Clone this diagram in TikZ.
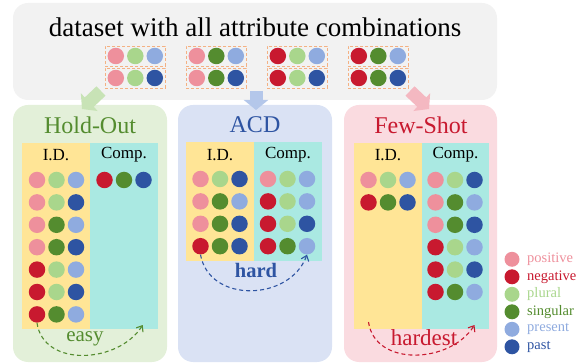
\documentclass[tikz,border=0pt]{standalone}
\usepackage{fontspec}
\setmainfont{Liberation Serif}
\usetikzlibrary{positioning, arrows.meta}

\definecolor{cPos}{HTML}{EE909C}
\definecolor{cNeg}{HTML}{C8192F}
\definecolor{cPlu}{HTML}{A9D68C}
\definecolor{cSin}{HTML}{548C2F}
\definecolor{cPre}{HTML}{8FABDF}
\definecolor{cPst}{HTML}{2E54A2}
\definecolor{bgTop}{HTML}{F2F2F2}
\definecolor{bgHo}{HTML}{E3F0D9}
\definecolor{bgAcd}{HTML}{DAE2F4}
\definecolor{bgFs}{HTML}{FADBE0}
\definecolor{idFill}{HTML}{FFE596}
\definecolor{compFill}{HTML}{AAE9E2}
\definecolor{arHo}{HTML}{C8E3B6}
\definecolor{arAcd}{HTML}{B4C7EA}
\definecolor{arFs}{HTML}{F4B8C1}
\definecolor{dashOr}{HTML}{F4B183}

\tikzset{
  dot/.style={circle, inner sep=0pt, minimum size=16.5pt},
  panel/.style={rounded corners=15pt, inner sep=0pt},
  col/.style={inner sep=0pt, minimum width=68pt},
  combo/.style={draw=dashOr, dash pattern=on 3pt off 2pt, line width=0.8pt, inner sep=0pt, minimum width=60pt, minimum height=20pt},
  fat/.style={line width=13pt, -{Triangle[length=10pt,width=24pt]}},
  curvy/.style={dash pattern=on 4pt off 3pt, line width=1.1pt, -{Straight Barb[length=5pt,width=8pt]}},
}

% three dots in a row: name, x, y, colours
\newcommand{\dotrow}[6]{%
  \node[dot,fill=#4] (#1-1) at ({#2-19.5},{#3}) {};
  \node[dot,fill=#5] (#1-2) at ({#2},{#3}) {};
  \node[dot,fill=#6] (#1-3) at ({#2+19.5},{#3}) {};}

\begin{document}
\begin{tikzpicture}[x=1pt, y=-1pt]
  \useasboundingbox (0,0) rectangle (586,363);

  % dataset
  \node[panel, fill=bgTop, minimum width=484pt, minimum height=97pt] (top) at (255,51.5) {};
  \node (title) at (255,27) {\fontsize{27}{30}\selectfont dataset with all attribute combinations};
  \foreach \a/\b [count=\g] in {cPos/cPlu, cPos/cSin, cNeg/cPlu, cNeg/cSin} {
    \pgfmathsetmacro{\gx}{135.3+81*(\g-1)}
    \node[combo] (grp\g-1) at (\gx,56) {};
    \node[combo] (grp\g-2) at (\gx,78) {};
    \dotrow{top\g-1}{\gx}{56}{\a}{\b}{cPre}
    \dotrow{top\g-2}{\gx}{78}{\a}{\b}{cPst}
  }

  % panels
  \node[panel, fill=bgHo, minimum width=154pt, minimum height=257pt] (ho) at (90,233.5) {};
  \node[panel, fill=bgAcd, minimum width=154pt, minimum height=257pt] (acd) at (255,233.5) {};
  \node[panel, fill=bgFs, minimum width=153pt, minimum height=257pt] (fs) at (420.5,233.5) {};

  \begin{scope}[every node/.style={font=\fontsize{24}{28}\selectfont}]
    \node[text=cSin] (hoTitle) at (90,125) {Hold-Out};
    \node[text=cPst] (acdTitle) at (255,125) {ACD};
    \node[text=cNeg] (fsTitle) at (421,125) {Few-Shot};
  \end{scope}

  \node[col, fill=idFill, minimum height=186pt] (hoId) at (56,236) {};
  \node[col, fill=compFill, minimum height=186pt, right=0pt of hoId] (hoComp) {};
  \node[col, fill=idFill, minimum height=119pt] (acdId) at (220,201.5) {};
  \node[col, fill=compFill, minimum height=119pt, right=0pt of acdId] (acdComp) {};
  \node[col, fill=idFill, minimum height=186pt] (fsId) at (388,236) {};
  \node[col, fill=compFill, minimum height=186pt, minimum width=67pt, right=0pt of fsId] (fsComp) {};

  \begin{scope}[every node/.style={font=\fontsize{17}{19}\selectfont}]
    \node (hoIdLab) at (56,155) {I.D.};
    \node (hoCompLab) at (124,155) {Comp.};
    \node (acdIdLab) at (220,155) {I.D.};
    \node (acdCompLab) at (288,155) {Comp.};
    \node (fsIdLab) at (388,155) {I.D.};
    \node (fsCompLab) at (455.5,155) {Comp.};
  \end{scope}

  % dots
  \foreach \a/\b/\c [count=\i] in {cPos/cPlu/cPre, cPos/cPlu/cPst, cPos/cSin/cPre, cPos/cSin/cPst, cNeg/cPlu/cPre, cNeg/cPlu/cPst, cNeg/cSin/cPre}
    \dotrow{hoid\i}{56.5}{180+22.4*(\i-1)}{\a}{\b}{\c};
  \dotrow{hocomp1}{124}{180}{cNeg}{cSin}{cPst}
  \foreach \a/\b/\c [count=\i] in {cPos/cPlu/cPst, cPos/cSin/cPre, cPos/cSin/cPst, cNeg/cSin/cPst}
    \dotrow{acdid\i}{220}{179+22.4*(\i-1)}{\a}{\b}{\c};
  \foreach \a/\b/\c [count=\i] in {cPos/cPlu/cPre, cNeg/cPlu/cPre, cNeg/cPlu/cPst, cNeg/cSin/cPre}
    \dotrow{acdcomp\i}{287.5}{179+22.4*(\i-1)}{\a}{\b}{\c};
  \foreach \a/\b/\c [count=\i] in {cPos/cPlu/cPre, cNeg/cSin/cPst}
    \dotrow{fsid\i}{388}{180+22.4*(\i-1)}{\a}{\b}{\c};
  \foreach \a/\b/\c [count=\i] in {cPos/cPlu/cPst, cPos/cSin/cPre, cPos/cSin/cPst, cNeg/cPlu/cPre, cNeg/cPlu/cPst, cNeg/cSin/cPre}
    \dotrow{fscomp\i}{455}{180+22.4*(\i-1)}{\a}{\b}{\c};

  % difficulty
  \node[text=cSin, font=\fontsize{21}{24}\selectfont] (easy) at (85,339) {easy};
  \node[text=cPst, font=\fontsize{20.5}{24}\selectfont\bfseries] (hard) at (256,270) {hard};
  \node[text=cNeg, font=\fontsize{23}{26}\selectfont] (hardest) at (424,338) {hardest};

  \coordinate (hoEnd) at (142.7,325);
  \coordinate (fsStart) at (368.5,322);
  \coordinate (fsEnd) at (474.5,325);
  \draw[curvy, cSin] (hoid7-1.south) to[out=-82, in=-122, looseness=1.1] (hoEnd);
  \draw[curvy, cPst] (acdid4-1.south) to[out=-80, in=-110, looseness=1.2] (acdcomp4-3.south);
  \draw[curvy, cNeg] (fsStart) to[out=-82, in=-122, looseness=1.1] (fsEnd);

  % split arrows
  \coordinate (hoFrom) at (101,91);
  \coordinate (hoTo) at (82,109);
  \coordinate (acdFrom) at (256,91);
  \coordinate (acdTo) at (256,110);
  \coordinate (fsFrom) at (410,91);
  \coordinate (fsTo) at (429,109);
  \draw[fat, arHo] (hoFrom) -- (hoTo);
  \draw[fat, arAcd] (acdFrom) -- (acdTo);
  \draw[fat, arFs] (fsFrom) -- (fsTo);

  % legend
  \foreach \c/\t [count=\i] in {cPos/positive, cNeg/negative, cPlu/plural, cSin/singular, cPre/present, cPst/past} {
    \node[dot, minimum size=15pt, fill=\c] (leg\i) at (512,{259.3+17.5*(\i-1)}) {};
    \node[text=\c, right=4pt of leg\i, font=\fontsize{14.5}{16}\selectfont] (legtxt\i) {\t};
  }
\end{tikzpicture}
\end{document}
